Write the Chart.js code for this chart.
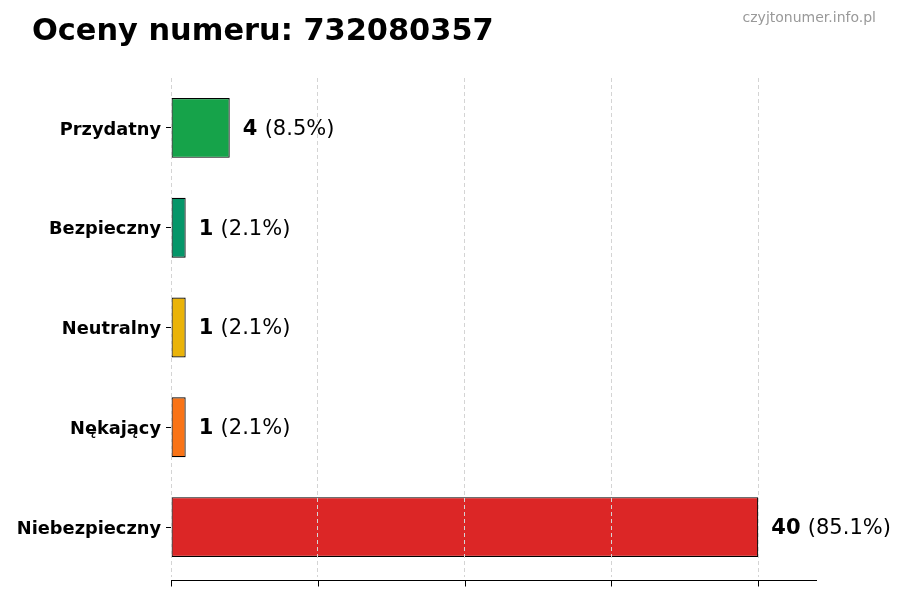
<!DOCTYPE html>
<html>
<head>
<meta charset="utf-8">
<script src="https://cdn.jsdelivr.net/npm/chart.js@4"></script>
<style>
  html, body { margin: 0; padding: 0; background: #fff; }
  #wrap { width: 900px; height: 600px; }
</style>
</head>
<body>
<div id="wrap"><canvas id="ratingsChart" width="900" height="600"></canvas></div>
<script>
const categories = ['Przydatny', 'Bezpieczny', 'Neutralny', 'Nękający', 'Niebezpieczny'];
const counts = [4, 1, 1, 1, 40];
const barColors = ['#16a34a', '#059669', '#eab308', '#f97316', '#dc2626'];
const xTicks = [0, 10, 20, 30, 40];
const xMax = 44;
const titleText = 'Oceny numeru: 732080357';
const sourceText = 'czyjtonumer.info.pl';

const total = counts.reduce((a, b) => a + b, 0);
const FONT = '"DejaVu Sans", sans-serif';

// title + watermark on top
const headerPlugin = {
    id: 'header',
    afterDraw(chart) {
        const ctx = chart.ctx;
        ctx.save();
        ctx.fillStyle = '#000';
        ctx.font = 'bold 30.4px ' + FONT;
        ctx.textBaseline = 'middle';
        ctx.textAlign = 'left';
        ctx.fillText(titleText, 32, 32);
        ctx.fillStyle = '#999';
        ctx.font = '14px ' + FONT;
        ctx.textAlign = 'right';
        ctx.fillText(sourceText, 876, 18);
        ctx.restore();
    }
};

// value labels at the end of each bar: bold count + (percent)
const valueLabels = {
    id: 'valueLabels',
    afterDatasetsDraw(chart) {
        const ctx = chart.ctx;
        const meta = chart.getDatasetMeta(0);
        ctx.save();
        ctx.textBaseline = 'middle';
        ctx.textAlign = 'left';
        meta.data.forEach((bar, i) => {
            const x = bar.x + 13;
            const y = bar.y + 1.5;
            const num = String(counts[i]);
            ctx.font = 'bold 21px ' + FONT;
            ctx.fillStyle = '#000';
            ctx.fillText(num, x, y);
            const w = ctx.measureText(num + ' ').width;
            ctx.font = '21px ' + FONT;
            ctx.fillText('(' + (counts[i] / total * 100).toFixed(1) + '%)', x + w, y);
        });
        ctx.restore();
    }
};

// bottom spine with solid tick marks
const xAxisLine = {
    id: 'xAxisLine',
    afterDraw(chart) {
        const scale = chart.scales.x;
        const ctx = chart.ctx;
        const y = Math.round(chart.chartArea.bottom + 3) + 0.5;
        ctx.save();
        ctx.strokeStyle = '#000';
        ctx.lineWidth = 1;
        ctx.beginPath();
        ctx.moveTo(scale.left, y);
        ctx.lineTo(scale.right, y);
        ctx.stroke();
        scale.ticks.forEach(t => {
            const px = Math.round(scale.getPixelForValue(t.value)) + 0.5;
            ctx.beginPath();
            ctx.moveTo(px, y);
            ctx.lineTo(px, y + 6);
            ctx.stroke();
        });
        ctx.restore();
    }
};

new Chart(document.getElementById('ratingsChart').getContext('2d'), {
    type: 'bar',
    data: {
        labels: categories,
        datasets: [{
            data: counts,
            backgroundColor: barColors,
            borderColor: '#000',
            borderWidth: 1.2,
            borderSkipped: false,
            barPercentage: 0.6,
            categoryPercentage: 1.0
        }]
    },
    options: {
        indexAxis: 'y',
        responsive: false,
        animation: false,
        layout: { padding: { top: 78, right: 83, left: 0, bottom: 0 } },
        plugins: {
            legend: { display: false },
            tooltip: { enabled: false }
        },
        scales: {
            x: {
                min: 0,
                max: xMax,
                afterBuildTicks: (scale) => { scale.ticks = xTicks.map(v => ({ value: v })); },
                afterFit: (scale) => { scale.height = 23; },
                ticks: { display: false },
                grid: {
                    z: 1,
                    color: '#d4d4d4',
                    lineWidth: 1,
                    drawTicks: false
                },
                border: { display: false, dash: [4, 3] }
            },
            y: {
                afterFit: (scale) => { scale.width = 171; },
                ticks: {
                    color: '#000',
                    padding: 5,
                    labelOffset: 2,
                    font: { family: FONT, size: 17.8, weight: 'bold' }
                },
                grid: {
                    offset: false,
                    drawOnChartArea: false,
                    drawTicks: true,
                    tickLength: 5,
                    color: '#000'
                },
                border: { display: false }
            }
        }
    },
    plugins: [headerPlugin, valueLabels, xAxisLine]
});
</script>
</body>
</html>
